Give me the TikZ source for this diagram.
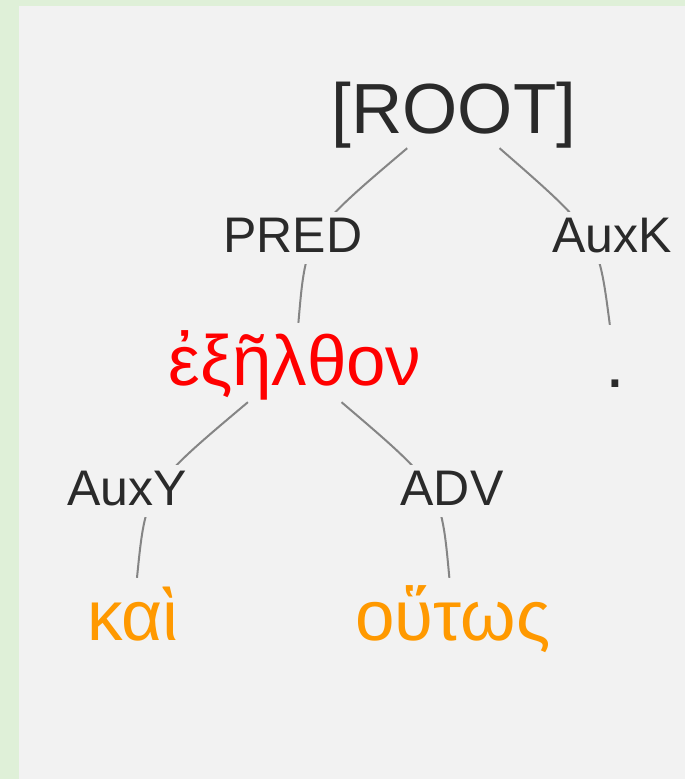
\documentclass[tikz,border=0pt]{standalone}
\usepackage{fontspec}
\setmainfont{Liberation Sans}
\definecolor{outer}{HTML}{DFF0D8}
\definecolor{panel}{HTML}{F2F2F2}
\definecolor{labelc}{HTML}{2A2A2A}
\definecolor{edgec}{HTML}{858585}
\definecolor{mainw}{HTML}{FF0000}
\definecolor{depw}{HTML}{FF9900}
\tikzset{
  word/.style={anchor=base, inner sep=0pt, text height=62pt, text depth=17pt,
    font=\fontsize{71}{80}\selectfont},
  rootnode/.style={anchor=base, inner sep=0pt, text height=64pt, text depth=15pt,
    font=\fontsize{71}{80}\selectfont, text=labelc},
  rel/.style={anchor=base, inner xsep=4pt, inner ysep=0pt, text height=40pt,
    text depth=12pt, fill=panel, font=\fontsize{50}{60}\selectfont, text=labelc},
  treeedge/.style={draw=edgec, line width=2pt}
}
\begin{document}
\begin{tikzpicture}[x=1pt,y=-1pt]
  \fill[outer] (0,0) rectangle (685,779);
  \fill[panel] (19,6) rectangle (685,779);
  \useasboundingbox (0,0) rectangle (685,779);

  \node[rootnode] (root) at (454,133) {[ROOT]};
  \node[word, text=mainw] (w1) at (295,385) {ἐξῆλθον};
  \node[word, text=labelc] (dot) at (615,387) {.};
  \node[word, text=depw] (kai) at (133,640) {καὶ};
  \node[word, text=depw] (hout) at (453,640) {οὕτως};

  \draw[treeedge] (root) .. controls (306,234) .. (w1);
  \draw[treeedge] (root) .. controls (598,234) .. (dot);
  \draw[treeedge] (w1) .. controls (146,488) .. (kai);
  \draw[treeedge] (w1) .. controls (441,487) .. (hout);

  \node[rel] (pred) at (293,252) {PRED};
  \node[rel] (auxk) at (612,252) {AuxK};
  \node[rel] (auxy) at (127,505) {AuxY};
  \node[rel] (adv) at (452,505) {ADV};
\end{tikzpicture}
\end{document}
